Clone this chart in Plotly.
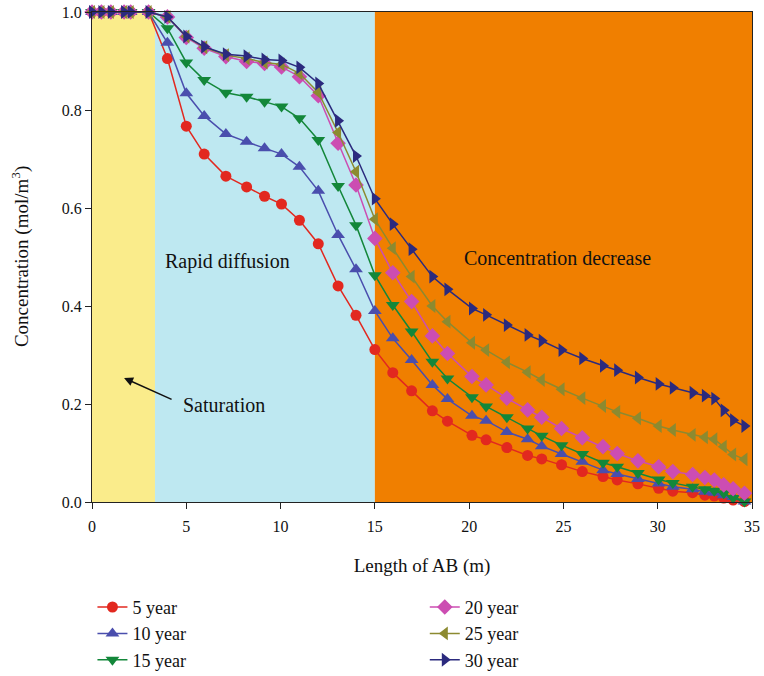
import plotly.graph_objects as go

# Distance along AB (m) at which concentration was sampled
length_ab = [0, 0.5, 1, 1.7, 2.05, 3, 4, 5, 5.95, 7.1, 8.2, 9.15, 10.05, 11, 12, 13.05, 14,
             15, 15.95, 16.95, 18.05, 18.85, 20.15, 20.9, 22, 23.1,
             23.85, 24.9, 26, 27.1, 27.85, 28.95, 30.05, 30.8, 31.85, 32.5, 33, 33.5, 34, 34.6]

conc_5 = [1, 1, 1, 1, 1, 1, 0.905, 0.767, 0.710, 0.665, 0.643, 0.624, 0.608, 0.575, 0.527, 0.441, 0.381,
          0.311, 0.264, 0.227, 0.186, 0.165, 0.136, 0.127, 0.111, 0.095,
          0.088, 0.076, 0.062, 0.052, 0.045, 0.037, 0.028, 0.022, 0.019, 0.014, 0.012, 0.008, 0.004, 0.001]
conc_10 = [1, 1, 1, 1, 1, 1, 0.937, 0.834, 0.788, 0.751, 0.735, 0.722, 0.710, 0.684, 0.635, 0.545, 0.475,
           0.390, 0.334, 0.290, 0.239, 0.210, 0.176, 0.166, 0.143, 0.128,
           0.114, 0.098, 0.082, 0.065, 0.057, 0.047, 0.038, 0.031, 0.026, 0.021, 0.019, 0.014, 0.010, 0.001]
conc_15 = [1, 1, 1, 1, 1, 1, 0.967, 0.897, 0.861, 0.835, 0.827, 0.817, 0.807, 0.783, 0.739, 0.645, 0.565,
           0.463, 0.402, 0.348, 0.286, 0.252, 0.214, 0.195, 0.173, 0.150,
           0.135, 0.116, 0.098, 0.080, 0.072, 0.059, 0.046, 0.039, 0.031, 0.026, 0.023, 0.018, 0.008, 0.001]
conc_20 = [1, 1, 1, 1, 1, 1, 0.990, 0.948, 0.926, 0.909, 0.899, 0.895, 0.888, 0.868, 0.829, 0.732, 0.647,
           0.538, 0.468, 0.409, 0.339, 0.303, 0.256, 0.239, 0.212, 0.188,
           0.173, 0.150, 0.131, 0.113, 0.099, 0.084, 0.072, 0.062, 0.056, 0.050, 0.045, 0.035, 0.027, 0.018]
conc_25 = [1, 1, 1, 1, 1, 1, 0.990, 0.950, 0.928, 0.912, 0.905, 0.897, 0.893, 0.875, 0.836, 0.754, 0.674,
           0.577, 0.518, 0.460, 0.400, 0.368, 0.325, 0.310, 0.285, 0.265,
           0.249, 0.230, 0.212, 0.196, 0.184, 0.171, 0.155, 0.147, 0.137, 0.132, 0.128, 0.113, 0.097, 0.087]
conc_30 = [1, 1, 1, 1, 1, 1, 0.990, 0.950, 0.929, 0.914, 0.910, 0.903, 0.901, 0.887, 0.854, 0.778, 0.706,
           0.619, 0.567, 0.516, 0.460, 0.434, 0.395, 0.382, 0.361, 0.341,
           0.329, 0.310, 0.293, 0.278, 0.269, 0.254, 0.241, 0.233, 0.223, 0.217, 0.211, 0.187, 0.167, 0.155]

series_names = ["5 year", "10 year", "15 year", "20 year", "25 year", "30 year"]
series_values = [conc_5, conc_10, conc_15, conc_20, conc_25, conc_30]
series_colors = ["#E2281F", "#4A4EAD", "#13873A", "#CC4DB2", "#8C8A30", "#2B2A7E"]
series_symbols = ["circle", "triangle-up", "triangle-down", "diamond", "triangle-left", "triangle-right"]
series_sizes = [11, 12, 12, 12, 12, 12]

# Zones along AB
zone_edges = [0, 3.34, 15, 35]
zone_colors = ["#FAEC8B", "#BEE8F1", "#F07F00"]

FONT = "Liberation Serif, Times New Roman, serif"

fig = go.Figure()

for i, (name, vals) in enumerate(zip(series_names, series_values)):
    fig.add_trace(go.Scatter(
        x=length_ab, y=vals, name=name, mode="lines+markers",
        line=dict(color=series_colors[i], width=1.5),
        marker=dict(symbol=series_symbols[i], size=series_sizes[i], color=series_colors[i],
                    line=dict(width=0)),
        legend="legend" if i < 3 else "legend2",
        cliponaxis=False,
    ))

for x0, x1, c in zip(zone_edges[:-1], zone_edges[1:], zone_colors):
    fig.add_shape(type="rect", xref="x", yref="y", x0=x0, x1=x1, y0=0, y1=1,
                  fillcolor=c, line=dict(width=0), layer="below")

ann_font = dict(family=FONT, size=20, color="#111111")
fig.add_annotation(x=7.2, y=0.49, text="Rapid diffusion", showarrow=False, font=ann_font, xref="x", yref="y")
fig.add_annotation(x=24.66, y=0.498, text="Concentration decrease", showarrow=False, font=ann_font, xref="x", yref="y")
fig.add_annotation(x=7.0, y=0.198, text="Saturation", showarrow=False, font=ann_font, xref="x", yref="y")
fig.add_annotation(x=1.7, y=0.253, ax=4.3, ay=0.208, axref="x", ayref="y", xref="x", yref="y",
                   text="", showarrow=True, arrowhead=2, arrowsize=1.2, arrowwidth=1.5, arrowcolor="#111111")

# Y-axis title, rotated, sitting left of the tick labels
fig.add_annotation(x=-0.109, y=0.5, xref="paper", yref="paper", xanchor="center", yanchor="middle",
                   text="Concentration (mol/m<sup>3</sup>)", textangle=-90, showarrow=False,
                   font=dict(family=FONT, size=19, color="#111111"))

axis_common = dict(
    showline=True, linecolor="#222222", linewidth=1.2, mirror=True,
    ticks="outside", ticklen=6, tickcolor="#222222", tickwidth=1,
    showgrid=False, zeroline=False,
    tickfont=dict(family=FONT, size=16, color="#111111"),
)

legend_common = dict(xref="container", yref="container", xanchor="left", yanchor="top",
                     orientation="v", font=dict(family=FONT, size=18),
                     bgcolor="rgba(0,0,0,0)", tracegroupgap=0)

fig.update_layout(
    width=764, height=676,
    margin=dict(l=92, r=12, t=12, b=174, autoexpand=False),
    paper_bgcolor="white", plot_bgcolor="white",
    font=dict(family=FONT, color="#111111"),
    xaxis=dict(range=[0, 35], tickvals=[0, 5, 10, 15, 20, 25, 30, 35], ticklabelstandoff=4,
               title=dict(text="Length of AB (m)", font=dict(family=FONT, size=19), standoff=24),
               **axis_common),
    yaxis=dict(range=[0, 1.0], tickvals=[0, 0.2, 0.4, 0.6, 0.8, 1.0], tickformat=".1f",
               **axis_common),
    legend=dict(x=0.121, y=0.129, **legend_common),
    legend2=dict(x=0.556, y=0.129, **legend_common),
    showlegend=True,
)

fig.write_html("out.html")
